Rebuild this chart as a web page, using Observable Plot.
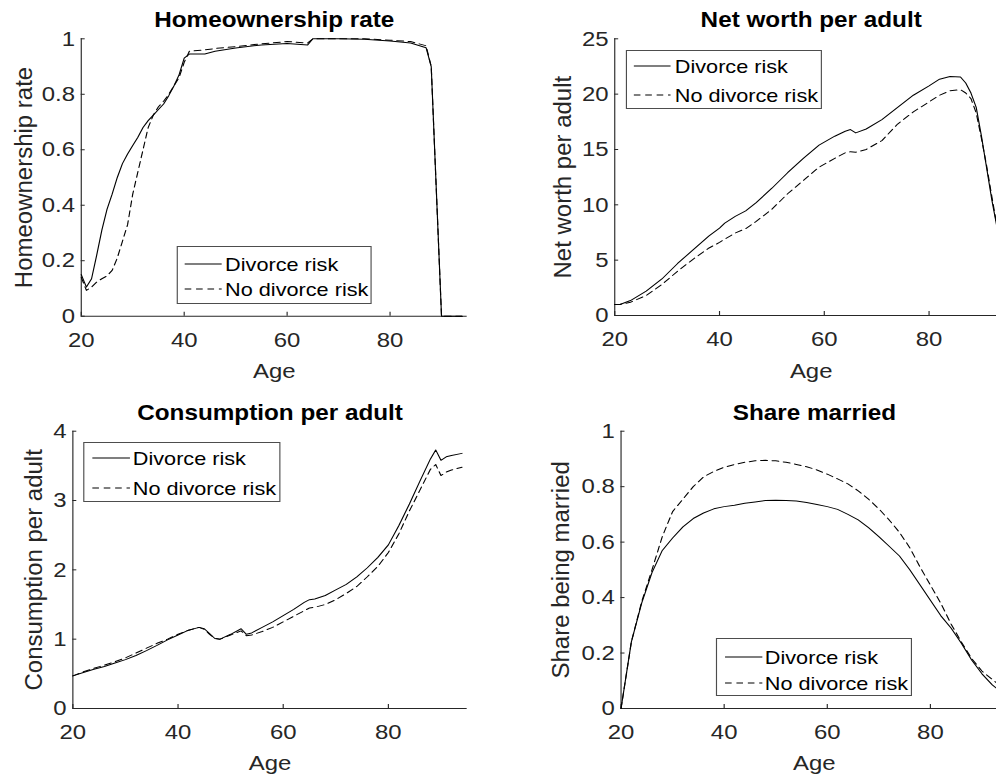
<!DOCTYPE html>
<html>
<head>
<meta charset="utf-8">
<script src="https://cdn.jsdelivr.net/npm/d3@7"></script>
<script src="https://cdn.jsdelivr.net/npm/@observablehq/plot@0.6"></script>
<style>
  html, body { margin: 0; padding: 0; background: #fff; }
  #clip { position: relative; width: 996px; height: 778px; overflow: hidden; background: #fff; }
  #stage { position: absolute; left: 0; top: 0; height: 778px; transform-origin: 0 0;
           font-family: "Liberation Sans", Arial, Helvetica, sans-serif; }
  .panel { position: absolute; }
  .panel svg { max-width: none !important; }
  .legend { position: absolute; border: 1px solid #4d4d4d; background: #fff; box-sizing: border-box; }
  .legend svg { position: absolute; overflow: visible; }
  .legend span { position: absolute; white-space: nowrap; font-size: 19px; color: #000; line-height: 1; transform: translateY(-50%); }
</style>
</head>
<body>
<div id="clip"><div id="stage"></div></div>
<script>
// ---------------- data ----------------
const seriesNames = ["Divorce risk", "No divorce risk"];
const xTicks = [20, 40, 60, 80];

// Homeownership rate
const homeAges = [20,21,22,23,24,25,26,27,28,29,30,31,32,33,34,35,36,37,38,39,40,41,44,46,50,55,60,64,65,70,75,80,84,87,88,90,94];
const homeDivorce = [0.15,0.105,0.135,0.22,0.31,0.385,0.44,0.5,0.55,0.585,0.615,0.645,0.68,0.705,0.725,0.745,0.765,0.795,0.83,0.87,0.93,0.945,0.945,0.955,0.967,0.978,0.983,0.978,1.0,1.0,0.998,0.992,0.985,0.968,0.9,0,0];
const homeNoDivorce = [0.14,0.093,0.105,0.123,0.135,0.145,0.165,0.21,0.27,0.33,0.44,0.52,0.6,0.68,0.725,0.755,0.775,0.8,0.83,0.86,0.915,0.955,0.96,0.965,0.972,0.982,0.99,0.985,1.0,1.0,1.0,0.995,0.99,0.975,0.9,0,0];
const homeYTicks = [0, 0.2, 0.4, 0.6, 0.8, 1];

// Net worth per adult
const worthAges = [20,21,23,26,29,32,35,38,40,41,43,45,47,50,53,56,59,62,64,65,66,68,71,74,77,80,82,84,86,87,88,89,90,91,92,93];
const worthDivorce = [1.0,1.0,1.35,2.2,3.3,4.7,5.95,7.2,7.9,8.35,8.95,9.45,10.2,11.5,12.9,14.2,15.4,16.2,16.65,16.8,16.5,16.85,17.7,18.8,19.9,20.75,21.35,21.6,21.55,21.0,20.1,18.8,16.2,13.3,10.4,7.9];
const worthNoDivorce = [1.0,1.0,1.2,1.8,2.8,4.0,5.1,6.1,6.6,6.9,7.45,7.85,8.5,9.6,11.0,12.2,13.4,14.2,14.7,14.8,14.75,15.0,15.8,17.3,18.4,19.3,19.9,20.3,20.4,20.1,19.6,18.3,16.0,13.5,10.7,8.0];
const worthYTicks = [0, 5, 10, 15, 20, 25];

// Consumption per adult
const consAges = [20,22,24,26,28,30,32,34,36,38,40,42,44,45,46,47,48,50,52,53,54,56,58,60,62,64,65,66,68,70,72,74,76,78,80,82,84,86,88,89,90,91,92,94];
const consDivorce = [0.47,0.52,0.565,0.605,0.655,0.705,0.765,0.835,0.91,0.99,1.06,1.13,1.17,1.15,1.08,1.01,1.0,1.07,1.15,1.07,1.09,1.17,1.25,1.34,1.43,1.53,1.57,1.58,1.63,1.71,1.79,1.9,2.03,2.18,2.36,2.64,2.95,3.28,3.6,3.73,3.58,3.63,3.65,3.68];
const consNoDivorce = [0.47,0.53,0.58,0.625,0.675,0.73,0.8,0.87,0.94,1.0,1.07,1.13,1.17,1.14,1.07,1.01,1.0,1.06,1.12,1.05,1.06,1.11,1.17,1.25,1.33,1.41,1.45,1.46,1.5,1.57,1.66,1.76,1.9,2.05,2.25,2.52,2.85,3.15,3.45,3.52,3.36,3.41,3.44,3.48];
const consYTicks = [0, 1, 2, 3, 4];

// Share married
const marAges = [20,22,24,26,28,30,32,34,36,38,40,42,44,46,48,50,52,54,56,58,60,62,64,66,68,70,72,74,76,78,80,82,84,86,88,90,92,93];
const marDivorce = [0,0.24,0.38,0.49,0.57,0.615,0.655,0.685,0.705,0.72,0.728,0.733,0.74,0.745,0.75,0.751,0.75,0.748,0.743,0.736,0.728,0.718,0.70,0.68,0.652,0.62,0.585,0.55,0.5,0.445,0.39,0.335,0.29,0.235,0.175,0.125,0.085,0.07];
const marNoDivorce = [0,0.24,0.385,0.5,0.62,0.71,0.755,0.80,0.835,0.855,0.87,0.88,0.888,0.893,0.895,0.893,0.888,0.88,0.872,0.86,0.845,0.828,0.81,0.785,0.755,0.72,0.68,0.635,0.58,0.51,0.445,0.38,0.305,0.24,0.18,0.135,0.105,0.09];
const marYTicks = [0, 0.2, 0.4, 0.6, 0.8, 1];

// ---------------- layout (original-pixel geometry) ----------------
const S = 1.14;                       // horizontal stretch of the reference picture
document.getElementById("stage").style.width = (996 / S) + "px";
document.getElementById("stage").style.transform = `scaleX(${S})`;

const AXIS = "#262626";
const panels = [
  { title: "Homeownership rate", ylabel: "Homeownership rate", ages: homeAges, a: homeDivorce, b: homeNoDivorce,
    yDomain: [0, 1], yTicks: homeYTicks, box: [0, 0, 498, 389], frame: [80.7, 466.7, 38.3, 315.7], ylabX: 23.3, titleTop: 11.7, ageTop: 362.7,
    legend: { box: [176.3, 246, 371.7, 304.3], line: [183, 220], text: 224, rows: [263, 288] } },
  { title: "Net worth per adult", ylabel: "Net worth per adult", ages: worthAges, a: worthDivorce, b: worthNoDivorce,
    yDomain: [0, 25], yTicks: worthYTicks, box: [498, 0, 540, 389], frame: [614, 1006.9, 38.3, 315], ylabX: 562.3, titleTop: 11.7, ageTop: 363,
    legend: { box: [625.7, 50, 822, 109], line: [633, 669.7], text: 673.7, rows: [65, 94.3] } },
  { title: "Consumption per adult", ylabel: "Consumption per adult", ages: consAges, a: consDivorce, b: consNoDivorce,
    yDomain: [0, 4], yTicks: consYTicks, box: [0, 389, 498, 389], frame: [72.3, 466.7, 430.7, 708], ylabX: 34, titleTop: 404, ageTop: 754.5,
    legend: { box: [83.3, 442.3, 280, 501.7], line: [90.7, 128.3], text: 131.7, rows: [457.3, 486.7] } },
  { title: "Share married", ylabel: "Share being married", ages: marAges, a: marDivorce, b: marNoDivorce,
    yDomain: [0, 1], yTicks: marYTicks, box: [498, 389, 540, 389], frame: [620.3, 1007, 430.7, 708], ylabX: 561, titleTop: 404, ageTop: 754.5,
    legend: { box: [716.3, 638.3, 911.7, 696], line: [724, 761.3], text: 763.7, rows: [655.7, 682.3] } }
];

const stage = document.getElementById("stage");
const FONT = "'Liberation Sans', Arial, Helvetica, sans-serif";

for (const p of panels) {
  const [bl, bt, bw, bh] = p.box;
  const [x0, x1, y0, y1] = p.frame;
  const W = bw / S, H = bh;
  const mL = (x0 - bl) / S, mR = (bl + bw - x1) / S, mT = y0 - bt, mB = bt + bh - y1;
  const frameW = W - mL - mR, frameH = H - mT - mB;
  const rows = p.ages.map((age, i) => ({ age, a: p.a[i], b: p.b[i] }));

  const chart = Plot.plot({
    width: W, height: H,
    marginLeft: mL, marginRight: mR, marginTop: mT, marginBottom: mB,
    style: { fontFamily: FONT, fontSize: "21px", color: AXIS, background: "transparent", overflow: "visible", maxWidth: "none" },
    x: { domain: [20, 95] },
    y: { domain: p.yDomain },
    marks: [
      Plot.ruleX([20], { stroke: AXIS, strokeWidth: 1 }),
      Plot.ruleY([p.yDomain[0]], { stroke: AXIS, strokeWidth: 1 }),
      Plot.tickX(xTicks, { x: d => d, stroke: AXIS, insetTop: frameH - 4 }),
      Plot.tickY(p.yTicks, { y: d => d, stroke: AXIS, insetRight: frameW - 4 / S }),
      Plot.axisX(xTicks, { tickSize: 0, tickPadding: 16, fontSize: 21, fill: AXIS, label: null, tickFormat: d => String(d) }),
      Plot.axisY(p.yTicks, { tickSize: 0, tickPadding: 6.2 / S, fontSize: 21, fill: AXIS, label: null, tickFormat: d => String(d) }),
      Plot.line(rows, { x: "age", y: "a", stroke: "#000", strokeWidth: 1 }),
      Plot.line(rows, { x: "age", y: "b", stroke: "#000", strokeWidth: 1, strokeDasharray: "6,4" }),
      Plot.text([p.title], { text: d => d, frameAnchor: "top", lineAnchor: "top", textAnchor: "middle", dy: p.titleTop - y0, fontSize: 21.3, fontWeight: "bold", fill: "#000" }),
      Plot.text(["Age"], { text: d => d, frameAnchor: "bottom", lineAnchor: "top", textAnchor: "middle", dy: p.ageTop - y1, fontSize: 21, fill: AXIS }),
      Plot.text([p.ylabel], { text: d => d, frameAnchor: "left", rotate: -90, textAnchor: "middle", lineAnchor: "middle", dx: (p.ylabX - x0) / S, fontSize: 24, fill: AXIS })
    ]
  });
  // rotated labels: undo the horizontal stretch on their glyph thickness
  chart.querySelectorAll("text[transform*='rotate']").forEach(t => {
    t.setAttribute("transform", t.getAttribute("transform") + ` scale(1,${(1 / S).toFixed(4)})`);
  });
  const holder = document.createElement("div");
  holder.className = "panel";
  holder.style.left = (bl / S) + "px";
  holder.style.top = bt + "px";
  holder.style.width = W + "px";
  holder.style.height = H + "px";
  holder.appendChild(chart);
  stage.appendChild(holder);

  // legend
  const L = p.legend;
  const lg = document.createElement("div");
  lg.className = "legend";
  lg.style.left = (L.box[0] / S) + "px";
  lg.style.top = L.box[1] + "px";
  lg.style.width = ((L.box[2] - L.box[0]) / S) + "px";
  lg.style.height = (L.box[3] - L.box[1]) + "px";
  seriesNames.forEach((name, k) => {
    const ry = L.rows[k] - L.box[1];
    const lx0 = (L.line[0] - L.box[0]) / S, lx1 = (L.line[1] - L.box[0]) / S;
    const svg = document.createElementNS("http://www.w3.org/2000/svg", "svg");
    svg.setAttribute("width", lx1 - lx0);
    svg.setAttribute("height", 2);
    svg.style.left = lx0 + "px";
    svg.style.top = (ry - 1) + "px";
    const ln = document.createElementNS("http://www.w3.org/2000/svg", "line");
    ln.setAttribute("x1", 0); ln.setAttribute("x2", lx1 - lx0);
    ln.setAttribute("y1", 1); ln.setAttribute("y2", 1);
    ln.setAttribute("stroke", "#000"); ln.setAttribute("stroke-width", 1);
    if (k === 1) ln.setAttribute("stroke-dasharray", "5.8,4.2");
    svg.appendChild(ln);
    lg.appendChild(svg);
    const sp = document.createElement("span");
    sp.textContent = name;
    sp.style.left = ((L.text - L.box[0]) / S) + "px";
    sp.style.top = ry + "px";
    lg.appendChild(sp);
  });
  stage.appendChild(lg);
}
</script>
</body>
</html>
